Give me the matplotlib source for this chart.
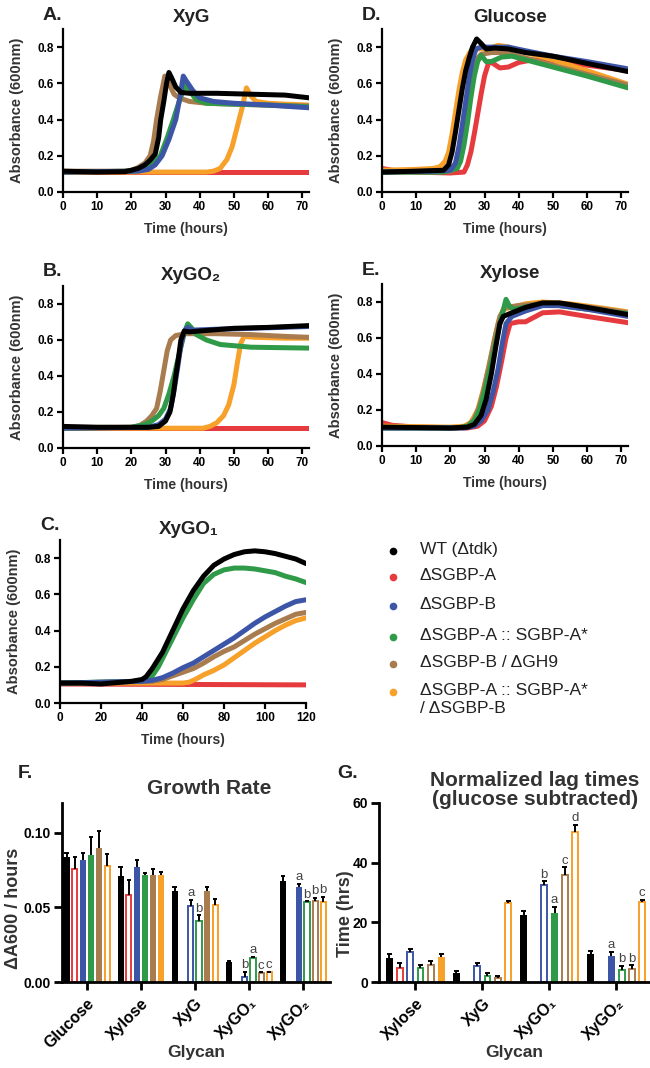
import numpy as np
import matplotlib
matplotlib.use('Agg')
import matplotlib.pyplot as plt
from matplotlib.lines import Line2D

plt.rcParams['font.family'] = ['Liberation Sans', 'DejaVu Sans']

W, H = 650, 1068

strains = ['WT (\u0394tdk)', '\u0394SGBP-A', '\u0394SGBP-B', '\u0394SGBP-A :: SGBP-A*',
           '\u0394SGBP-B / \u0394GH9', '\u0394SGBP-A :: SGBP-A*\n/ \u0394SGBP-B']
colors = ['#000000', '#e63b3e', '#3d55a6', '#2f9a47', '#a87c4f', '#f7a02a']

# ---- growth curves, (time h, A600) ----
xyg_wt = [(0, .115), (10, .11), (18, .112), (20, .12), (22, .13), (24, .15), (25.5, .175), (27, .21), (28, .3),
          (28.6, .4), (29.5, .5), (30.3, .6), (31, .66), (31.8, .63), (33, .58), (34.5, .55), (37, .545),
          (45, .545), (55, .54), (65, .535), (72, .52)]
xyg_a = [(0, .11), (72, .11)]
xyg_b = [(0, .11), (22, .115), (25, .125), (27, .15), (29, .2), (31, .29), (33, .4), (34.2, .52), (35.2, .64),
         (36.2, .61), (38, .56), (40, .52), (44, .50), (50, .49), (60, .48), (72, .465)]
xyg_comp = [(0, .11), (20, .115), (23, .125), (25, .14), (27, .17), (28.5, .2), (30.5, .3), (32.3, .4), (34, .5),
            (35.9, .60), (37, .56), (39, .51), (42, .49), (50, .485), (60, .48), (72, .47)]
xyg_gh9 = [(0, .115), (18, .115), (20, .12), (22, .135), (24, .16), (25.5, .2), (26.5, .28), (27.4, .4),
           (28.5, .52), (29.8, .64), (31, .6), (32.5, .54), (34, .52), (37, .5), (42, .49), (50, .485),
           (60, .48), (72, .475)]
xyg_compb = [(0, .11), (42, .11), (44, .115), (46, .13), (48, .18), (49.5, .25), (51, .36), (52.5, .47),
             (53.7, .575), (55, .53), (56.5, .5), (60, .49), (65, .485), (72, .48)]

glc_wt = [(0, .11), (10, .115), (18, .12), (19.5, .15), (20.5, .22), (21.5, .33), (22.5, .45), (23.5, .57),
          (24.5, .67), (25.5, .74), (26.5, .8), (27.7, .845), (29, .82), (30.5, .79), (33, .795), (37, .79),
          (42, .77), (50, .75), (60, .71), (72, .665)]
glc_a = [(0, .13), (3, .12), (10, .11), (20, .105), (24, .11), (25, .15), (26, .22), (27, .32), (28, .43),
         (29, .54), (30, .64), (31.3, .72), (32.5, .71), (34.5, .685), (37, .69), (40, .715), (44, .73),
         (50, .725), (60, .70), (72, .67)]
glc_b = [(0, .11), (15, .115), (20, .12), (21.5, .16), (22.5, .25), (23.5, .37), (24.5, .5), (25.5, .63),
         (26.5, .73), (27.5, .79), (29, .80), (33, .80), (37, .80), (42, .78), (50, .75), (60, .72), (72, .68)]
glc_comp = [(0, .11), (18, .11), (22, .13), (23, .17), (24, .26), (25, .38), (26, .52), (27, .64), (28, .72),
            (29, .755), (30.5, .72), (32, .72), (35, .745), (38, .75), (42, .73), (50, .69), (60, .64),
            (72, .575)]
glc_gh9 = [(0, .11), (15, .11), (20, .115), (21.5, .13), (22.5, .2), (23.5, .3), (24.5, .42), (25.5, .55),
           (26.5, .66), (27.5, .73), (29, .76), (32, .77), (36, .77), (40, .75), (48, .71), (60, .65), (72, .59)]
glc_compb = [(0, .12), (10, .125), (15, .13), (17, .14), (18.5, .17), (19.5, .22), (20.5, .32), (21.5, .44),
             (22.5, .56), (23.5, .66), (24.5, .73), (26, .78), (28, .79), (31, .79), (34, .81), (37, .80),
             (42, .77), (50, .73), (60, .67), (72, .595)]

go2_wt = [(0, .12), (10, .115), (25, .115), (28, .12), (30, .15), (31.3, .2), (32.3, .3), (33, .4), (33.8, .5),
          (34.5, .6), (35.5, .65), (37, .645), (40, .65), (50, .665), (60, .67), (72, .68)]
go2_a = [(0, .11), (72, .11)]
go2_b = [(0, .11), (25, .115), (28, .13), (30, .16), (31.5, .22), (32.5, .32), (33.5, .44), (34.5, .57),
         (35.5, .65), (36.5, .67), (38, .655), (45, .66), (55, .665), (72, .675)]
go2_comp = [(0, .11), (20, .115), (24, .13), (26, .15), (28, .18), (29.5, .22), (31, .3), (32.5, .4), (34, .52),
            (35.5, .64), (36.5, .69), (37.5, .67), (39, .63), (42, .6), (46, .575), (55, .56), (72, .555)]
go2_gh9 = [(0, .115), (20, .115), (22.5, .125), (24.5, .15), (26, .18), (27.4, .22), (28.5, .32), (29.5, .43),
           (30.5, .54), (31.5, .6), (33, .625), (36, .635), (45, .635), (55, .63), (65, .62), (72, .615)]
go2_compb = [(0, .11), (41, .11), (43, .12), (45, .14), (47, .18), (48.5, .24), (50, .35), (51, .47), (52, .58),
             (53, .62), (56, .615), (65, .61), (72, .61)]

xyl_wt = [(0, .105), (20, .1), (25, .105), (27, .12), (29, .17), (30.5, .26), (32, .4), (33.3, .55), (34.5, .68),
          (35.5, .72), (38, .74), (42, .77), (47, .795), (52, .795), (60, .77), (72, .73)]
xyl_a = [(0, .13), (3, .115), (10, .105), (25, .1), (28, .11), (30, .14), (32, .22), (33.5, .33), (35, .47),
         (36.3, .6), (37.5, .68), (40, .69), (42, .69), (44, .71), (47, .74), (52, .745), (60, .72), (72, .685)]
xyl_b = [(0, .1), (24, .1), (27, .11), (29, .14), (31, .2), (32.5, .3), (34, .43), (35.2, .57), (36.3, .68),
         (38, .72), (42, .75), (47, .78), (52, .78), (60, .76), (72, .72)]
xyl_comp = [(0, .1), (22, .1), (25, .11), (27, .14), (28.5, .2), (30, .3), (31.5, .42), (33, .55), (34.5, .68),
            (36.3, .815), (37.5, .77), (39, .76), (44, .78), (50, .785), (60, .76), (72, .735)]
xyl_gh9 = [(0, .1), (22, .1), (25, .11), (27, .15), (28.5, .22), (30, .33), (31.5, .46), (33, .6), (34.5, .72),
           (36, .77), (40, .78), (47, .79), (55, .785), (65, .76), (72, .74)]
xyl_compb = [(0, .11), (20, .105), (24, .11), (26, .13), (28, .2), (29.5, .3), (31, .42), (32.5, .55), (34, .68),
             (35.5, .76), (38, .77), (42, .79), (47, .80), (55, .79), (65, .765), (72, .745)]

go1_wt = [(0, .11), (10, .11), (20, .105), (25, .11), (30, .115), (35, .12), (40, .13), (42, .145), (45, .19),
          (50, .28), (55, .4), (60, .52), (65, .62), (70, .7), (75, .76), (80, .795), (85, .82), (90, .835),
          (95, .84), (100, .835), (105, .825), (110, .81), (115, .795), (120, .77)]
go1_a = [(0, .105), (120, .1)]
go1_b = [(0, .11), (40, .12), (45, .125), (50, .14), (55, .165), (60, .195), (65, .22), (70, .255), (75, .29),
         (80, .325), (85, .36), (90, .4), (95, .44), (100, .475), (105, .505), (110, .535), (115, .56), (120, .57)]
go1_comp = [(0, .11), (40, .12), (43, .13), (45, .15), (48, .2), (52, .29), (56, .38), (60, .47), (65, .57),
            (70, .66), (75, .71), (80, .735), (85, .745), (90, .745), (95, .74), (100, .73), (105, .72),
            (110, .7), (115, .685), (120, .665)]
go1_gh9 = [(0, .11), (45, .12), (50, .13), (55, .15), (60, .17), (65, .19), (70, .22), (75, .255), (80, .285),
           (85, .31), (90, .345), (95, .38), (100, .41), (105, .44), (110, .465), (115, .49), (120, .5)]
go1_compb = [(0, .11), (60, .11), (63, .115), (66, .13), (70, .155), (75, .18), (80, .21), (85, .25), (90, .29),
             (95, .33), (100, .365), (105, .4), (110, .43), (115, .455), (120, .47)]

# ---- growth rate (panel F) ----
rate_glycans = ['Glucose', 'Xylose', 'XyG', 'XyGO\u2081', 'XyGO\u2082']
rate_wt = [0.084, 0.071, 0.061, 0.0136, 0.068]
rate_a = [0.076, 0.0586, None, None, None]
rate_b = [0.082, 0.077, 0.0512, 0.0034, 0.0638]
rate_comp = [0.085, 0.0716, 0.041, 0.016, 0.0535]
rate_gh9 = [0.090, 0.0716, 0.0609, 0.006, 0.054]
rate_compb = [0.078, 0.0716, 0.0517, 0.0065, 0.0537]
rate_wt_err = [0.0022, 0.006, 0.0025, 0.0004, 0.003]
rate_a_err = [0.008, 0.0096, None, None, None]
rate_b_err = [0.0045, 0.005, 0.0038, 0.0034, 0.002]
rate_comp_err = [0.012, 0.0016, 0.0036, 0.0008, 0.0005]
rate_gh9_err = [0.011, 0.004, 0.0025, 0.0005, 0.0024]
rate_compb_err = [0.0076, 0.002, 0.0038, 0.0005, 0.0034]
rate_open = [[0, 0, 0, 0, 0], [1, 1, 1, 1, 1], [0, 0, 1, 1, 0],
             [0, 0, 1, 1, 1], [0, 0, 0, 1, 1], [1, 0, 1, 1, 1]]
rate_letters = [['', '', '', '', ''], ['', '', '', '', ''], ['', '', 'a', 'b', 'a'],
                ['', '', 'b', 'a', 'b'], ['', '', '', 'c', 'b'], ['', '', '', 'c', 'b']]

# ---- normalized lag times (panel G) ----
lag_glycans = ['Xylose', 'XyG', 'XyGO\u2081', 'XyGO\u2082']
lag_wt = [8.2, 2.9, 22.4, 9.5]
lag_a = [4.8, None, None, None]
lag_b = [10.2, 5.5, 32.6, 8.7]
lag_comp = [4.6, 1.9, 23.1, 4.0]
lag_gh9 = [5.7, 1.2, 36.0, 4.4]
lag_compb = [8.5, 26.4, 50.2, 26.9]
lag_wt_err = [1.2, 0.9, 1.4, 0.8]
lag_a_err = [1.7, None, None, None]
lag_b_err = [0.9, 0.9, 1.1, 1.5]
lag_comp_err = [1.1, 1.0, 2.2, 1.5]
lag_gh9_err = [1.2, 0.9, 2.5, 1.2]
lag_compb_err = [0.9, 0.9, 2.5, 0.6]
lag_open = [[0, 0, 0, 0], [1, 1, 1, 1], [1, 1, 1, 0],
            [1, 1, 0, 1], [1, 1, 1, 1], [0, 1, 1, 1]]
lag_letters = [['', '', '', ''], ['', '', '', ''], ['', '', 'b', 'a'],
               ['', '', 'a', 'b'], ['', '', 'c', 'b'], ['', '', 'd', 'c']]

fig = plt.figure(figsize=(W / 100, H / 100), dpi=100)


def box(l, t, r, b):
    return [l / W, 1 - b / H, (r - l) / W, (b - t) / H]


def style(ax, tsize, lw=1.6, tlen=4.5):
    for s in ['top', 'right']:
        ax.spines[s].set_visible(False)
    for s in ['left', 'bottom']:
        ax.spines[s].set_linewidth(lw)
    ax.tick_params(width=lw, length=tlen, labelsize=tsize, pad=2)
    for lab in ax.get_xticklabels() + ax.get_yticklabels():
        lab.set_fontweight('bold')


def curve_panel(rect, curves, title, letter, xmax, xstep):
    ax = fig.add_axes(box(*rect))
    for i in [1, 5, 4, 3, 2, 0]:
        t, a = zip(*curves[i])
        ax.plot(t, a, color=colors[i], lw=3.6, solid_capstyle='round', solid_joinstyle='round')
    ax.set_xlim(0, xmax)
    ax.set_ylim(0, 0.9)
    ax.set_xticks(np.arange(0, xmax + 1, xstep))
    ax.set_yticks([0, 0.2, 0.4, 0.6, 0.8])
    ax.set_yticklabels(['0.0', '0.2', '0.4', '0.6', '0.8'])
    style(ax, 8.5)
    ax.set_ylabel('Absorbance (600nm)', fontsize=10.5, fontweight='bold', color='#333333', va='center')
    ax.yaxis.set_label_coords(-0.185, 0.5)
    ax.set_xlabel('Time (hours)', fontsize=10, fontweight='bold', color='#333333', va='center')
    ax.xaxis.set_label_coords(0.5, -37 / 163)
    l, t, r, b = rect
    fig.text((l + r) / 2 / W + 0.008, 1 - (t - 11) / H, title, fontsize=13.5, fontweight='bold',
             ha='center', va='center', color='#222222')
    fig.text((l - 20) / W, 1 - (t - 14) / H, letter, fontsize=14, fontweight='bold',
             ha='left', va='center', color='#222222')
    return ax


curve_panel((63, 29, 309, 192), [xyg_wt, xyg_a, xyg_b, xyg_comp, xyg_gh9, xyg_compb], 'XyG', 'A.', 72, 10)
curve_panel((382, 29, 628, 192), [glc_wt, glc_a, glc_b, glc_comp, glc_gh9, glc_compb], 'Glucose', 'D.', 72, 10)
curve_panel((63, 286, 309, 448), [go2_wt, go2_a, go2_b, go2_comp, go2_gh9, go2_compb], 'XyGO\u2082', 'B.', 72, 10)
curve_panel((382, 284, 628, 446), [xyl_wt, xyl_a, xyl_b, xyl_comp, xyl_gh9, xyl_compb], 'Xylose', 'E.', 72, 10)
curve_panel((60, 540, 306, 703), [go1_wt, go1_a, go1_b, go1_comp, go1_gh9, go1_compb], 'XyGO\u2081', 'C.', 120, 20)

# legend
leg_y = [551, 577, 606, 637, 664, 692]
for i, name in enumerate(strains):
    fig.add_artist(Line2D([393 / W], [1 - leg_y[i] / H], marker='o', markersize=4.5, color=colors[i],
                          transform=fig.transFigure))
    fig.text(420 / W, 1 - (leg_y[i] - 9) / H, name, fontsize=12.5, color='#222222', ha='left', va='top',
             linespacing=1.25)


def bar_panel(rect, glycans, vals, errs, opens, letters, ylim, yticks, ytl, xlim, ylabel, title, letter,
              width, stride, letter_off):
    ax = fig.add_axes(box(*rect))
    x = np.arange(len(glycans))
    for i in range(6):
        for j in range(len(glycans)):
            v = vals[i][j]
            if v is None:
                continue
            xi = x[j] + (i - 2.5) * stride
            if opens[i][j]:
                ax.bar(xi, v, width * 0.82, facecolor='white', edgecolor=colors[i], linewidth=1.4, zorder=2)
            else:
                ax.bar(xi, v, width, facecolor=colors[i], edgecolor='none', zorder=2)
            e = errs[i][j]
            ax.vlines(xi, v, v + e, color='black', lw=1.4, zorder=3)
            ax.hlines(v + e, xi - width * 0.35, xi + width * 0.35, color='black', lw=1.4, zorder=3)
            if letters[i][j]:
                ax.text(xi, v + e + letter_off, letters[i][j], ha='center', va='bottom', fontsize=9.5,
                        color='#444444')
    ax.set_xlim(*xlim)
    ax.set_ylim(*ylim)
    ax.set_yticks(yticks)
    ax.set_yticklabels(ytl)
    ax.set_xticks(x)
    ax.set_xticklabels(glycans, rotation=45, ha='right', rotation_mode='anchor')
    style(ax, 10, lw=2.0, tlen=6)
    ax.tick_params(axis='x', labelsize=11.5, pad=4)
    ax.set_ylabel(ylabel, fontsize=13, fontweight='bold', color='#333333', va='center')
    ax.set_xlabel('Glycan', fontsize=12.5, fontweight='bold', color='#333333', va='center')
    l, t, r, b = rect
    ax.xaxis.set_label_coords(0.5, -(1053 - b) / (b - t))
    fig.text(l / W - 0.068 if letter == 'F.' else (l - 42) / W, 1 - 773 / H, letter, fontsize=14,
             fontweight='bold', ha='left', va='center', color='#222222')
    return ax


axf = bar_panel((62, 803, 330, 982), rate_glycans,
                [rate_wt, rate_a, rate_b, rate_comp, rate_gh9, rate_compb],
                [rate_wt_err, rate_a_err, rate_b_err, rate_comp_err, rate_gh9_err, rate_compb_err],
                rate_open, rate_letters, (0, 0.12), [0, 0.05, 0.10], ['0.00', '0.05', '0.10'],
                (-0.46, 4.5), '\u0394A600 / hours', 'Growth Rate', 'F.', 0.115, 0.15, 0.0004)
axf.yaxis.set_label_coords(-0.18, 0.41)
fig.text(209 / W, 1 - 788 / H, 'Growth Rate', fontsize=15, fontweight='bold', ha='center', va='center',
         color='#333333')

axg = bar_panel((379, 803, 650, 982), lag_glycans,
                [lag_wt, lag_a, lag_b, lag_comp, lag_gh9, lag_compb],
                [lag_wt_err, lag_a_err, lag_b_err, lag_comp_err, lag_gh9_err, lag_compb_err],
                lag_open, lag_letters, (0, 60), [0, 20, 40, 60], ['0', '20', '40', '60'],
                (-0.54, 3.5), 'Time (hrs)', '', 'G.', 0.105, 0.154, 0.2)
axg.yaxis.set_label_coords(-0.125, 0.38)
fig.text(535 / W, 1 - 790 / H, 'Normalized lag times\n(glucose subtracted)', fontsize=15, fontweight='bold',
         ha='center', va='center', color='#333333', linespacing=0.95)

fig.savefig('out.png', dpi=100)
